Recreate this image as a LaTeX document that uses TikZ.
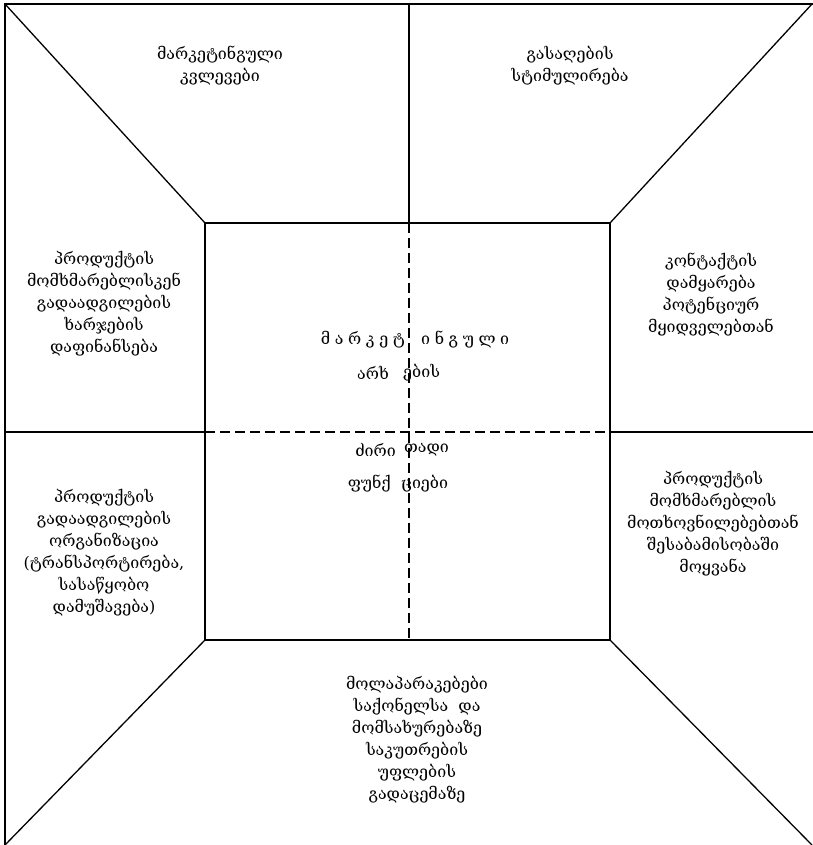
\documentclass[tikz,border=0pt]{standalone}
\usepackage{fontspec}
\newfontfamily\geofont[Script=Georgian]{DejaVu Serif}
\newcommand{\lsp}{\hspace{4.6pt}}
\begin{document}
\begin{tikzpicture}[x=1pt,y=-1pt,
  frame/.style={line width=1.3pt},
  cut/.style={line width=1.6pt, dash pattern=on 10pt off 5pt},
  label/.style={align=center, inner sep=0pt, font=\geofont\fontsize{16}{22}\selectfont}]
\useasboundingbox (0,0) rectangle (812,845);
% outer frame (right and bottom edges lie past the page edge)
\coordinate (OTL) at (5,4);
\coordinate (OTR) at (816,4);
\coordinate (OBL) at (5,849);
\coordinate (OBR) at (816,849);
\draw[frame] (OTL) rectangle (OBR);
% inner square
\coordinate (ITL) at (205,223);
\coordinate (ITR) at (610,223);
\coordinate (IBL) at (205,640);
\coordinate (IBR) at (610,640);
\draw[frame] (ITL) rectangle (IBR);
% diagonals linking the corners
\coordinate (DTR) at (812,4);
\coordinate (DBR) at (812,845);
\coordinate (DBL) at (5,845);
\draw[frame] (OTL) -- (ITL);
\draw[frame] (DTR) -- (ITR);
\draw[frame] (DBL) -- (IBL);
\draw[frame] (DBR) -- (IBR);
% dividing lines
\coordinate (VT) at (409,4);
\coordinate (VM) at (409,223);
\coordinate (VB) at (409,640);
\coordinate (HL) at (5,432);
\coordinate (HML) at (205,432);
\coordinate (HMR) at (610,432);
\coordinate (HR) at (816,432);
\draw[frame] (VT) -- (VM);
\draw[frame] (HL) -- (HML);
\draw[frame] (HMR) -- (HR);
\draw[cut] (VM) -- (VB);
\draw[cut] (HML) -- (HMR);
% labels of the outer panels
\node[label] (research) at (220,66) {მარკეტინგული\\კვლევები};
\node[label] (promo) at (570,66) {გასაღების\\სტიმულირება};
\node[label] (finance) at (104,304) {პროდუქტის\\მომხმარებლისკენ\\გადაადგილების\\ხარჯების\\დაფინანსება};
\node[label] (contact) at (711,295) {კონტაქტის\\დამყარება\\პოტენციურ\\მყიდველებთან};
\node[label] (transport) at (104,553) {პროდუქტის\\გადაადგილების\\ორგანიზაცია\\(ტრანსპორტირება,\\სასაწყობო\\დამუშავება)};
\node[label] (adapt) at (713,524) {პროდუქტის\\მომხმარებლის\\მოთხოვნილებებთან\\შესაბამისობაში\\მოყვანა};
\node[label] (negot) at (417,740) {მოლაპარაკებები\\საქონელსა\ \ და\\მომსახურებაზე\\საკუთრების\\უფლების\\გადაცემაზე};
% title in the centre, split by the dashed cross
\node[label, anchor=east] (t1a) at (405,340) {მ\lsp ა\lsp რ\lsp კ\lsp ე\lsp ტ};
\node[label, anchor=west] (t1b) at (421,340) {ი\lsp ნ\lsp გ\lsp უ\lsp ლ\lsp ი};
\node[label, anchor=east] (t2a) at (389,373) {არხ};
\node[label, anchor=west] (t2b) at (403,373) {ების};
\node[label, anchor=east] (t3a) at (396,450) {ძირი};
\node[label, anchor=west] (t3b) at (404,450) {თადი};
\node[label, anchor=east] (t4a) at (391,484) {ფუნქ};
\node[label, anchor=west] (t4b) at (401,484) {ციები};
\end{tikzpicture}
\end{document}
